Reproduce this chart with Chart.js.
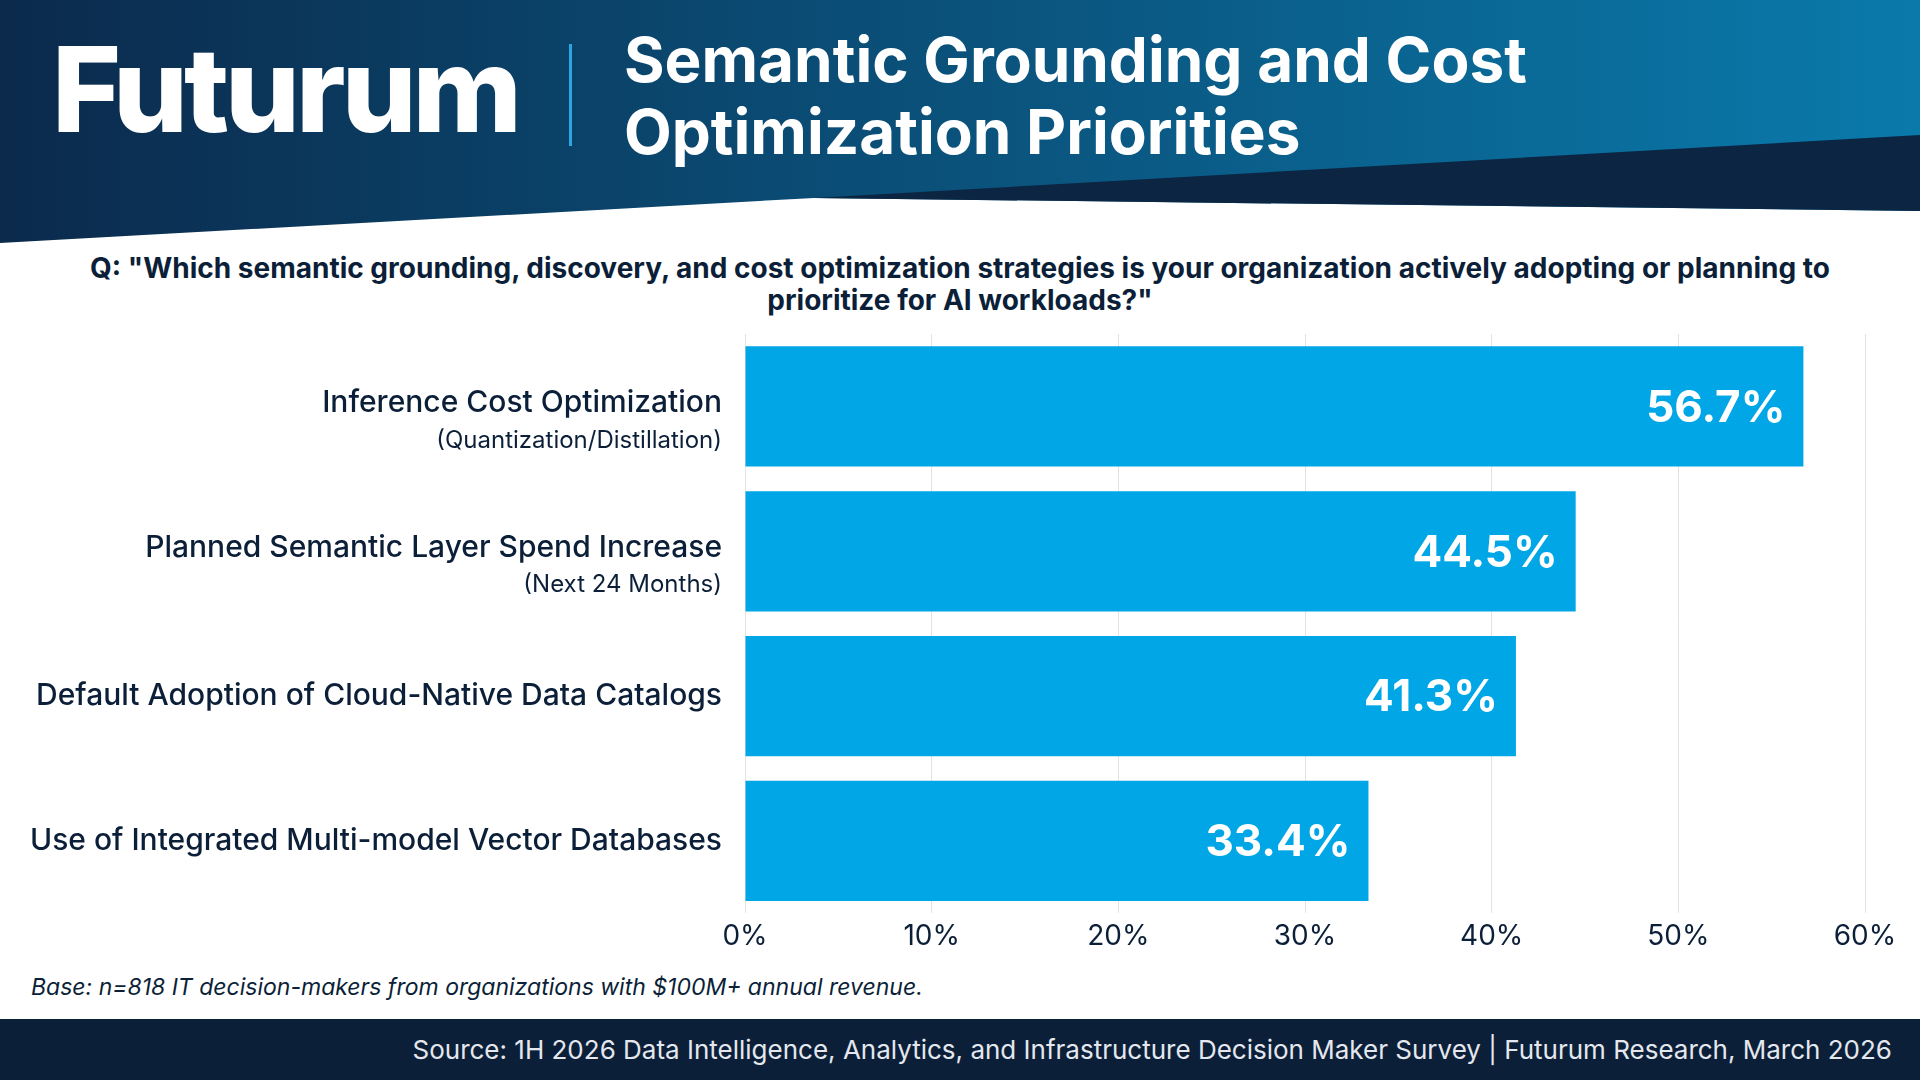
<!DOCTYPE html>
<html lang="en">
<head>
<meta charset="UTF-8" />
<title>Semantic Grounding and Cost Optimization Priorities</title>
<script src="https://cdn.jsdelivr.net/npm/chart.js"></script>
<style>
  body { margin: 0; width: 1920px; height: 1080px; position: relative; overflow: hidden; background: #fff; font-family: "Inter", sans-serif; }
  #header { position: absolute; left: 0; top: 0; width: 1920px; height: 250px; }
  .logo { position: absolute; left: 52px; top: 18px; color: #fff; font-size: 118px; font-weight: 800; letter-spacing: -4px; }
  .sep { position: absolute; left: 569px; top: 44px; width: 3px; height: 102px; background: #2aa7e0; }
  .title { position: absolute; left: 624px; top: 24px; color: #fff; font-size: 62px; font-weight: 700; line-height: 72px; }
  .question { position: absolute; left: 0; width: 1920px; top: 252px; text-align: center; font-size: 28px; font-weight: 700; color: #0c1f38; line-height: 32px; }
  #wrap { position: absolute; left: 0; top: 334px; width: 1920px; height: 625px; }
  .note { position: absolute; left: 31px; top: 973px; font-size: 23px; font-style: italic; color: #0c1f38; }
  .footer { position: absolute; left: 0; top: 1019px; width: 1920px; height: 61px; background: #0c1f38; }
  .footer span { position: absolute; right: 28px; top: 15px; color: #e4e8ee; font-size: 26px; }
</style>
</head>
<body>
<svg id="header" viewBox="0 0 1920 250">
  <defs>
    <linearGradient id="g" x1="0" x2="1" y1="0" y2="0">
      <stop offset="0" stop-color="#0b2a4c" />
      <stop offset="1" stop-color="#0a7aab" />
    </linearGradient>
  </defs>
  <polygon points="0,0 1920,0 1920,211 814,198 0,243" fill="url(#g)" />
  <polygon points="814,198 1920,135 1920,211" fill="#0b2542" />
</svg>
<div class="logo">Futurum</div>
<div class="sep"></div>
<div class="title">Semantic Grounding and Cost<br>Optimization Priorities</div>
<div class="question">Q: "Which semantic grounding, discovery, and cost optimization strategies is your organization actively adopting or planning to<br>prioritize for AI workloads?"</div>
<div id="wrap"><canvas id="chart"></canvas></div>
<div class="note">Base: n=818 IT decision-makers from organizations with $100M+ annual revenue.</div>
<div class="footer"><span>Source: 1H 2026 Data Intelligence, Analytics, and Infrastructure Decision Maker Survey | Futurum Research, March 2026</span></div>
<script>
  const labels = [
    "Inference Cost Optimization",
    "Planned Semantic Layer Spend Increase",
    "Default Adoption of Cloud-Native Data Catalogs",
    "Use of Integrated Multi-model Vector Databases"
  ];
  const subLabels = ["(Quantization/Distillation)", "(Next 24 Months)", "", ""];
  const values = [56.7, 44.5, 41.3, 33.4];

  const sideLabels = {
    id: "sideLabels",
    afterDraw(chart) {
      const c = chart.ctx, y = chart.scales.y, x = chart.scales.x;
      c.save();
      labels.forEach((l, i) => {
        const py = y.getPixelForValue(i);
        c.textAlign = "right";
        c.textBaseline = "middle";
        c.fillStyle = "#0c1f38";
        c.font = "500 30px Inter";
        if (subLabels[i]) {
          c.fillText(l, 722, py - 3);
          c.font = "24px Inter";
          c.fillText(subLabels[i], 722, py + 34);
        } else {
          c.fillText(l, 722, py);
        }
        c.font = "700 44px Inter";
        c.fillStyle = "#fff";
        c.fillText(values[i].toFixed(1) + "%", x.getPixelForValue(values[i]) - 18, py + 2);
      });
      c.restore();
    }
  };

  new Chart(document.getElementById("chart"), {
    type: "bar",
    data: { labels, datasets: [{ data: values, backgroundColor: "#00a6e6", barPercentage: 0.83, categoryPercentage: 1 }] },
    options: {
      indexAxis: "y",
      responsive: true,
      maintainAspectRatio: false,
      animation: false,
      layout: { padding: { left: 737, right: 55, top: 0, bottom: 0 } },
      plugins: { legend: { display: false }, tooltip: { enabled: false } },
      scales: {
        x: {
          min: 0, max: 60,
          ticks: { stepSize: 10, callback: v => v + "%", color: "#0c1f38", font: { size: 28, family: "Inter" }, padding: 6 },
          grid: { color: "#e3e3e3", drawTicks: false },
          border: { display: false }
        },
        y: { ticks: { display: false }, grid: { display: false }, border: { display: false } }
      }
    },
    plugins: [sideLabels]
  });
</script>
</body>
</html>
